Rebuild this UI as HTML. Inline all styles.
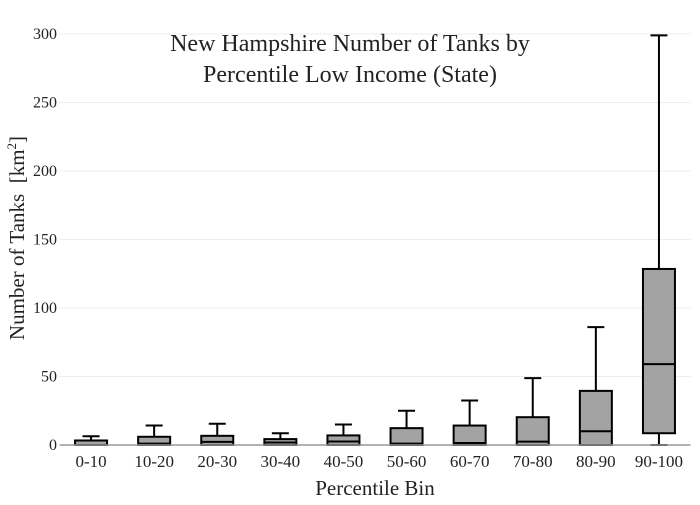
<!DOCTYPE html>
<html><head><meta charset="utf-8"><style>
body{margin:0;background:#fff;}
svg text{font-family:"Liberation Serif",serif;fill:#222;}
</style></head><body>
<svg id="chart" width="700" height="500">
<rect width="700" height="500" fill="#fff"/>
<g id="grid"></g><g id="boxes"></g><g id="axes"></g>
<text x="350" y="51" font-size="24" text-anchor="middle">New Hampshire Number of Tanks by</text>
<text x="350" y="82" font-size="24" text-anchor="middle">Percentile Low Income (State)</text>
<text x="375" y="495" font-size="21" text-anchor="middle">Percentile Bin</text>
<text transform="translate(24,238) rotate(-90)" font-size="21" text-anchor="middle" xml:space="preserve">Number of Tanks  [km<tspan font-size="13" dy="-8">2</tspan><tspan dy="8">]</tspan></text>
</svg>
<script>
const categories=["0-10","10-20","20-30","30-40","40-50","50-60","60-70","70-80","80-90","90-100"];
const lowerWhisker=[0,0,0,0,0,0,0,0,0,0];
const q1=[0,0,0,0,0,0,0,0,0,8.6];
const median=[0,1,2.3,1.8,2.6,1,1.5,2.5,10,59];
const q3=[3.3,6,6.7,4.3,7,12.3,14.2,20.3,39.5,128.5];
const upperWhisker=[6.4,14.2,15.5,8.6,15,25,32.5,48.8,86,299];
const yTicks=[0,50,100,150,200,250,300];
const NS="http://www.w3.org/2000/svg";
const x0=59.5,x1=690.5,yBase=445,yTop=34,yMax=300;
const bw=(x1-x0)/categories.length;
const xc=i=>x0+bw*(i+0.5);
const y=v=>yBase-(v/yMax)*(yBase-yTop);
function mk(tag,attrs,parent){const e=document.createElementNS(NS,tag);for(const k in attrs)e.setAttribute(k,attrs[k]);parent.appendChild(e);return e;}
const grid=document.getElementById('grid'),boxes=document.getElementById('boxes'),axes=document.getElementById('axes');
yTicks.forEach(t=>{
 if(t>0){const g=mk('line',{x1:x0,x2:x1,y1:y(t),y2:y(t),stroke:'#eee','stroke-width':1},grid);
 
 }
 const tx=mk('text',{x:57,y:y(t)+5,'font-size':16,'text-anchor':'end'},axes);tx.textContent=t;
 
 
});
const base=mk('line',{x1:x0,x2:x1,y1:yBase,y2:yBase,stroke:'#999','stroke-width':1.5},axes);


categories.forEach((c,i)=>{
 const cx=xc(i),hw=16,cw=8.5;
 const g=mk('g',{},boxes);
 
 
 mk('line',{x1:cx,x2:cx,y1:y(upperWhisker[i]),y2:y(q3[i]),stroke:'#000','stroke-width':2},g);
 mk('line',{x1:cx-cw,x2:cx+cw,y1:y(upperWhisker[i]),y2:y(upperWhisker[i]),stroke:'#000','stroke-width':2},g);
 mk('line',{x1:cx,x2:cx,y1:y(q1[i]),y2:y(lowerWhisker[i]),stroke:'#000','stroke-width':2},g);
 mk('line',{x1:cx-cw,x2:cx+cw,y1:y(lowerWhisker[i]),y2:y(lowerWhisker[i]),stroke:'#000','stroke-width':2},g);
 mk('rect',{x:cx-hw,y:y(q3[i]),width:hw*2,height:Math.max(y(q1[i])-y(q3[i]),0.5),fill:'#a3a3a3',stroke:'#000','stroke-width':2},g);
 mk('line',{x1:cx-hw,x2:cx+hw,y1:y(median[i]),y2:y(median[i]),stroke:'#000','stroke-width':2},g);
 const tx=mk('text',{x:cx,y:467,'font-size':17,'text-anchor':'middle'},axes);tx.textContent=c;
 
 
});
</script>
</body></html>
